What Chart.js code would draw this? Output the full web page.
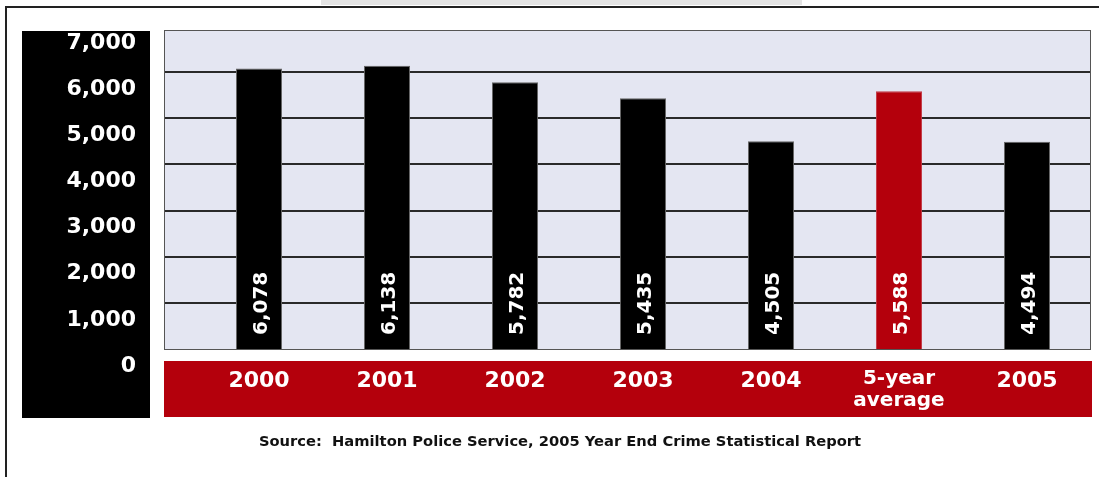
<!DOCTYPE html>
<html>
<head>
<meta charset="utf-8">
<title>Hamilton Police Service incidents 2000-2005</title>
<script src="https://cdn.jsdelivr.net/npm/chart.js@4.4.1/dist/chart.umd.min.js"></script>
<style>
  html, body { margin: 0; padding: 0; background: #fff; }
  canvas { display: block; }
</style>
</head>
<body>
<canvas id="chart" width="1099" height="477"></canvas>
<script>
// categories and values
const years = ['2000', '2001', '2002', '2003', '2004', ['5-year', 'average'], '2005'];
const incidents = [6078, 6138, 5782, 5435, 4505, 5588, 4494];
const yMin = 0;
const yMax = 7000;
const yStep = 1000;
const sourceNote = 'Source:  Hamilton Police Service, 2005 Year End Crime Statistical Report';

const RED = '#b4000c';
const LABEL_FONT = '"DejaVu Sans", sans-serif';
const AVG = 5;

const fmt = (v) => v.toLocaleString('en-US');

// panels, frame and grid drawn behind the scales
const backdrop = {
    id: 'backdrop',
    beforeDraw(chart) {
        const ctx = chart.ctx;
        const y = chart.scales.y;
        const area = chart.chartArea;
        const plotLeft = 164;
        const plotTop = 30;

        ctx.save();
        ctx.fillStyle = '#fff';
        ctx.fillRect(0, 0, chart.width, chart.height);

        ctx.fillStyle = '#e4e4e4';
        ctx.fillRect(321, 0, 481, 5);

        ctx.strokeStyle = '#222';
        ctx.lineWidth = 2;
        ctx.beginPath();
        ctx.moveTo(5, 7);
        ctx.lineTo(chart.width, 7);
        ctx.moveTo(6, 7);
        ctx.lineTo(6, chart.height);
        ctx.stroke();

        // black strip behind the value axis
        ctx.fillStyle = '#000';
        ctx.fillRect(22, 31, 128, 387);

        // red strip behind the category axis
        ctx.fillStyle = RED;
        ctx.fillRect(plotLeft, 361, area.right - plotLeft + 1, 56);

        // plot background
        ctx.fillStyle = '#e4e6f2';
        ctx.fillRect(plotLeft, plotTop, area.right - plotLeft, area.bottom - plotTop);

        ctx.strokeStyle = '#2a2a2a';
        ctx.lineWidth = 2;
        y.ticks.forEach((t) => {
            if (t.value <= yMin || t.value >= yMax) return;
            const py = Math.round(y.getPixelForValue(t.value));
            ctx.beginPath();
            ctx.moveTo(plotLeft, py);
            ctx.lineTo(area.right, py);
            ctx.stroke();
        });

        ctx.strokeStyle = '#555';
        ctx.lineWidth = 1;
        ctx.strokeRect(plotLeft + 0.5, plotTop + 0.5, area.right - plotLeft - 1, area.bottom - plotTop);
        ctx.restore();
    },
    afterDraw(chart) {
        const ctx = chart.ctx;
        ctx.save();
        ctx.fillStyle = '#111';
        ctx.font = 'bold 14.7px ' + LABEL_FONT;
        ctx.textAlign = 'center';
        ctx.textBaseline = 'middle';
        ctx.fillText(sourceNote, 560, 442);
        ctx.restore();
    }
};

// value written upward inside each bar
const barValues = {
    id: 'barValues',
    afterDatasetsDraw(chart) {
        const ctx = chart.ctx;
        const meta = chart.getDatasetMeta(0);
        ctx.save();
        ctx.fillStyle = '#fff';
        ctx.font = 'bold 20px ' + LABEL_FONT;
        ctx.textAlign = 'left';
        ctx.textBaseline = 'alphabetic';
        meta.data.forEach((bar, i) => {
            ctx.save();
            ctx.translate(bar.x, bar.base - 14);
            ctx.rotate(-Math.PI / 2);
            ctx.fillText(fmt(incidents[i]), 0, 7.5);
            ctx.restore();
        });
        ctx.restore();
    }
};

// fixed axis sizes, without the extra padding the labels would ask for
const fixSize = (w, h) => (scale) => {
    if (w) scale.width = w;
    if (h) scale.height = h;
    scale.paddingTop = 0;
    scale.paddingBottom = 0;
    scale.paddingLeft = 0;
    scale.paddingRight = 0;
};

new Chart(document.getElementById('chart'), {
    type: 'bar',
    data: {
        labels: years,
        datasets: [{
            data: incidents,
            backgroundColor: (c) => (c.dataIndex === AVG ? RED : '#000'),
            borderColor: (c) => (c.dataIndex === AVG ? '#c23a46' : '#666'),
            borderWidth: 1,
            barPercentage: 0.36,
            categoryPercentage: 1
        }]
    },
    options: {
        responsive: false,
        animation: false,
        layout: {
            padding: { top: 26, right: 8, bottom: 58, left: 0 }
        },
        plugins: {
            legend: { display: false },
            title: { display: false },
            tooltip: { enabled: false }
        },
        scales: {
            x: {
                offset: true,
                grid: { display: false, drawTicks: false },
                border: { display: false },
                afterFit: fixSize(0, 70),
                ticks: {
                    color: '#fff',
                    padding: 19,
                    maxRotation: 0,
                    autoSkip: false,
                    font: (c) => (c.index === AVG
                        ? { family: LABEL_FONT, size: 20, weight: 'bold', lineHeight: 1.1 }
                        : { family: LABEL_FONT, size: 22, weight: 'bold' })
                }
            },
            y: {
                min: yMin,
                max: yMax,
                grid: { display: false, drawTicks: false },
                border: { display: false },
                afterFit: fixSize(195, 0),
                ticks: {
                    stepSize: yStep,
                    color: '#fff',
                    padding: 59,
                    labelOffset: 17,
                    font: { family: LABEL_FONT, size: 22, weight: 'bold' },
                    callback: (v) => fmt(v)
                }
            }
        }
    },
    plugins: [backdrop, barValues]
});
</script>
</body>
</html>
